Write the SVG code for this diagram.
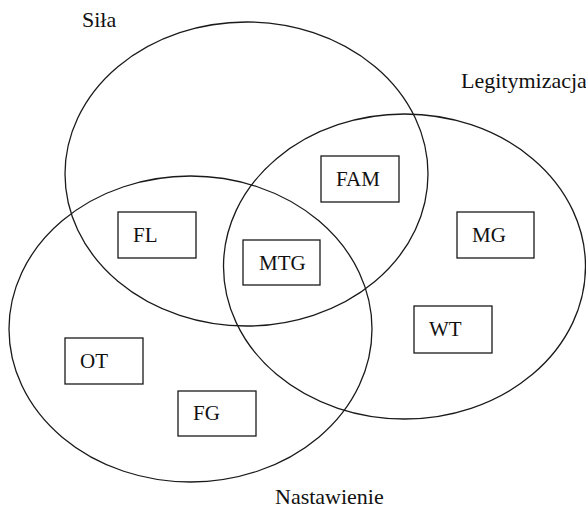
<svg xmlns="http://www.w3.org/2000/svg" width="586" height="510" viewBox="0 0 586 510">
<style>
.set{fill:none;stroke:#1a1a1a;stroke-width:1.3}
.box{fill:none;stroke:#1a1a1a;stroke-width:1.3}
text{font-family:'Liberation Serif','DejaVu Serif','Times New Roman',serif;fill:#111}
.lbl{font-size:22px}
.txt{font-size:21px}
</style>
<rect width="586" height="510" fill="#fff"/>
<g id="set-sila">
<ellipse class="set" cx="246.5" cy="174" rx="181.5" ry="152"/>
<text class="lbl" x="82" y="27" font-family="Liberation Serif, serif">Siła</text>
</g>
<g id="set-legitymizacja">
<ellipse class="set" cx="404.5" cy="266.5" rx="181" ry="152.5"/>
<text class="lbl" x="461" y="88" font-family="Liberation Serif, serif">Legitymizacja</text>
</g>
<g id="set-nastawienie">
<ellipse class="set" cx="190.5" cy="329" rx="181.5" ry="153"/>
<text class="lbl" x="275" y="504" font-family="Liberation Serif, serif">Nastawienie</text>
</g>
<g id="FAM"><rect class="box" x="321" y="156" width="78" height="46"/><text class="txt" x="336" y="186" font-family="Liberation Serif, serif">FAM</text></g>
<g id="FL"><rect class="box" x="118" y="212" width="78" height="46"/><text class="txt" x="133" y="242" font-family="Liberation Serif, serif">FL</text></g>
<g id="MTG"><rect class="box" x="243" y="240" width="77" height="45"/><text class="txt" x="259" y="270" font-family="Liberation Serif, serif">MTG</text></g>
<g id="MG"><rect class="box" x="457" y="212" width="77" height="46"/><text class="txt" x="472" y="242" font-family="Liberation Serif, serif">MG</text></g>
<g id="WT"><rect class="box" x="414" y="306" width="78" height="47"/><text class="txt" x="429" y="336" font-family="Liberation Serif, serif">WT</text></g>
<g id="OT"><rect class="box" x="65" y="338" width="78" height="46"/><text class="txt" x="80" y="368" font-family="Liberation Serif, serif">OT</text></g>
<g id="FG"><rect class="box" x="178" y="391" width="78" height="45"/><text class="txt" x="193" y="420" font-family="Liberation Serif, serif">FG</text></g>
<g id="connectors"></g>
</svg>
